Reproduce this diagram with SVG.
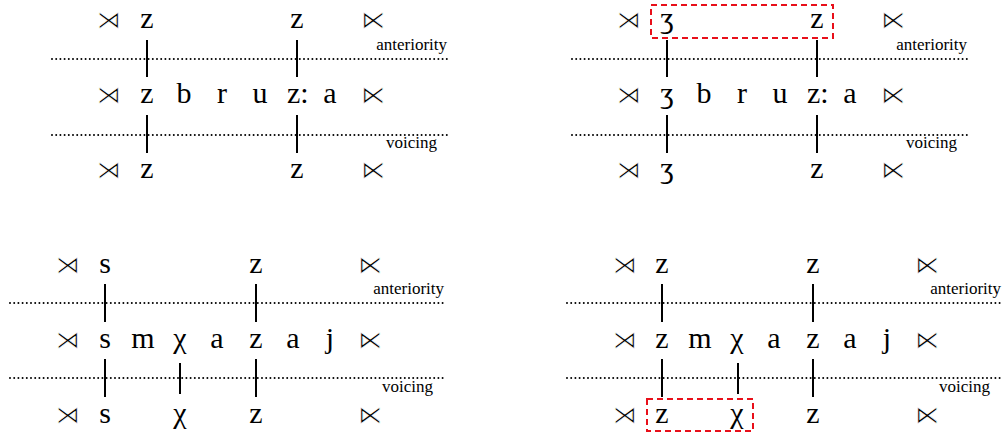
<svg xmlns="http://www.w3.org/2000/svg" width="1003" height="433" viewBox="0 0 1003 433">
<style>
.seg { font-family: "Liberation Serif", serif; font-size: 30px; text-anchor: middle; fill: #000; }
.bd { font-family: "DejaVu Sans", sans-serif; font-size: 24px; text-anchor: middle; fill: #000; stroke: #fff; stroke-width: 0.7; }
.lbl { font-family: "Liberation Serif", serif; font-size: 17px; text-anchor: end; fill: #000; }
.tier { stroke: #000; stroke-width: 2; stroke-linecap: round; stroke-dasharray: 0 4.2; fill: none; }
.assoc { stroke: #000; stroke-width: 2; }
.box { fill: none; stroke: #e8101a; stroke-width: 2; stroke-dasharray: 6 4; }
</style>
<rect width="1003" height="433" fill="#fff"/>

<!-- Panel 1 -->
<g id="p1">
  <g id="p1-tiers">
    <line class="tier" x1="52" y1="59" x2="448" y2="59"/>
    <line class="tier" x1="52" y1="135" x2="448" y2="135"/>
    <text class="lbl" x="447" y="50">anteriority</text>
    <text class="lbl" x="437" y="148">voicing</text>
  </g>
  <g id="p1-top">
    <text class="bd" x="109" y="28">⋊</text>
    <text class="seg" x="147" y="28">z</text>
    <text class="seg" x="297" y="28">z</text>
    <text class="bd" x="373" y="28">⋉</text>
  </g>
  <g id="p1-mid">
    <text class="bd" x="109" y="103">⋊</text>
    <text class="seg" x="147" y="103">z</text>
    <text class="seg" x="184" y="103">b</text>
    <text class="seg" x="222" y="103">r</text>
    <text class="seg" x="260" y="103">u</text>
    <text class="seg" x="287" y="103" style="text-anchor:start">z:</text>
    <text class="seg" x="330" y="103">a</text>
    <text class="bd" x="373" y="103">⋉</text>
  </g>
  <g id="p1-bot">
    <text class="bd" x="109" y="178">⋊</text>
    <text class="seg" x="147" y="178">z</text>
    <text class="seg" x="297" y="178">z</text>
    <text class="bd" x="373" y="178">⋉</text>
  </g>
</g>

<!-- Panel 2 -->
<g id="p2">
  <g id="p2-tiers">
    <line class="tier" x1="572" y1="59" x2="968" y2="59"/>
    <line class="tier" x1="572" y1="135" x2="968" y2="135"/>
    <text class="lbl" x="967" y="50">anteriority</text>
    <text class="lbl" x="957" y="148">voicing</text>
  </g>
  <g id="p2-top">
    <text class="bd" x="629" y="28">⋊</text>
    <text class="seg" x="667" y="28">ʒ</text>
    <text class="seg" x="817" y="28">z</text>
    <text class="bd" x="893" y="28">⋉</text>
  </g>
  <g id="p2-mid">
    <text class="bd" x="629" y="103">⋊</text>
    <text class="seg" x="667" y="103">ʒ</text>
    <text class="seg" x="704" y="103">b</text>
    <text class="seg" x="742" y="103">r</text>
    <text class="seg" x="780" y="103">u</text>
    <text class="seg" x="807" y="103" style="text-anchor:start">z:</text>
    <text class="seg" x="850" y="103">a</text>
    <text class="bd" x="893" y="103">⋉</text>
  </g>
  <g id="p2-bot">
    <text class="bd" x="629" y="178">⋊</text>
    <text class="seg" x="667" y="178">ʒ</text>
    <text class="seg" x="817" y="178">z</text>
    <text class="bd" x="893" y="178">⋉</text>
  </g>
  <rect id="p2-box" class="box" x="651" y="5" width="182" height="33"/>
</g>

<!-- Panel 3 -->
<g id="p3">
  <g id="p3-tiers">
    <line class="tier" x1="10" y1="303" x2="445" y2="303"/>
    <line class="tier" x1="10" y1="378" x2="445" y2="378"/>
    <text class="lbl" x="444" y="294">anteriority</text>
    <text class="lbl" x="433" y="392">voicing</text>
  </g>
  <g id="p3-top">
    <text class="bd" x="68" y="273">⋊</text>
    <text class="seg" x="105" y="273">s</text>
    <text class="seg" x="256" y="273">z</text>
    <text class="bd" x="370" y="273">⋉</text>
  </g>
  <g id="p3-mid">
    <text class="bd" x="68" y="348">⋊</text>
    <text class="seg" x="105" y="348">s</text>
    <text class="seg" x="143" y="348">m</text>
    <text class="seg" x="180" y="348">χ</text>
    <text class="seg" x="217" y="348">a</text>
    <text class="seg" x="256" y="348">z</text>
    <text class="seg" x="293" y="348">a</text>
    <text class="seg" x="330" y="348">j</text>
    <text class="bd" x="370" y="348">⋉</text>
  </g>
  <g id="p3-bot">
    <text class="bd" x="68" y="423">⋊</text>
    <text class="seg" x="105" y="423">s</text>
    <text class="seg" x="180" y="423">χ</text>
    <text class="seg" x="256" y="423">z</text>
    <text class="bd" x="370" y="423">⋉</text>
  </g>
</g>

<!-- Panel 4 -->
<g id="p4">
  <g id="p4-tiers">
    <line class="tier" x1="567" y1="303" x2="1003" y2="303"/>
    <line class="tier" x1="567" y1="378" x2="1003" y2="378"/>
    <text class="lbl" x="1001" y="294">anteriority</text>
    <text class="lbl" x="990" y="392">voicing</text>
  </g>
  <g id="p4-top">
    <text class="bd" x="625" y="273">⋊</text>
    <text class="seg" x="662" y="273">z</text>
    <text class="seg" x="813" y="273">z</text>
    <text class="bd" x="927" y="273">⋉</text>
  </g>
  <g id="p4-mid">
    <text class="bd" x="625" y="348">⋊</text>
    <text class="seg" x="662" y="348">z</text>
    <text class="seg" x="700" y="348">m</text>
    <text class="seg" x="737" y="348">χ</text>
    <text class="seg" x="774" y="348">a</text>
    <text class="seg" x="813" y="348">z</text>
    <text class="seg" x="850" y="348">a</text>
    <text class="seg" x="887" y="348">j</text>
    <text class="bd" x="927" y="348">⋉</text>
  </g>
  <g id="p4-bot">
    <text class="bd" x="625" y="423">⋊</text>
    <text class="seg" x="662" y="423">z</text>
    <text class="seg" x="737" y="423">χ</text>
    <text class="seg" x="813" y="423">z</text>
    <text class="bd" x="927" y="423">⋉</text>
  </g>
  <rect id="p4-box" class="box" x="647" y="399" width="106" height="32"/>
</g>

<!-- Association lines -->
<g id="connectors">
  <line class="assoc" x1="147" y1="40" x2="147" y2="77"/>
  <line class="assoc" x1="297" y1="40" x2="297" y2="77"/>
  <line class="assoc" x1="147" y1="115" x2="147" y2="153"/>
  <line class="assoc" x1="297" y1="115" x2="297" y2="153"/>

  <line class="assoc" x1="667" y1="40" x2="667" y2="77"/>
  <line class="assoc" x1="817" y1="40" x2="817" y2="77"/>
  <line class="assoc" x1="667" y1="115" x2="667" y2="153"/>
  <line class="assoc" x1="817" y1="115" x2="817" y2="153"/>

  <line class="assoc" x1="105" y1="284" x2="105" y2="322"/>
  <line class="assoc" x1="256" y1="284" x2="256" y2="322"/>
  <line class="assoc" x1="105" y1="359" x2="105" y2="397"/>
  <line class="assoc" x1="180" y1="363" x2="180" y2="394"/>
  <line class="assoc" x1="256" y1="359" x2="256" y2="397"/>

  <line class="assoc" x1="662" y1="284" x2="662" y2="322"/>
  <line class="assoc" x1="813" y1="284" x2="813" y2="322"/>
  <line class="assoc" x1="662" y1="359" x2="662" y2="397"/>
  <line class="assoc" x1="738" y1="363" x2="738" y2="394"/>
  <line class="assoc" x1="813" y1="359" x2="813" y2="397"/>
</g>
</svg>
